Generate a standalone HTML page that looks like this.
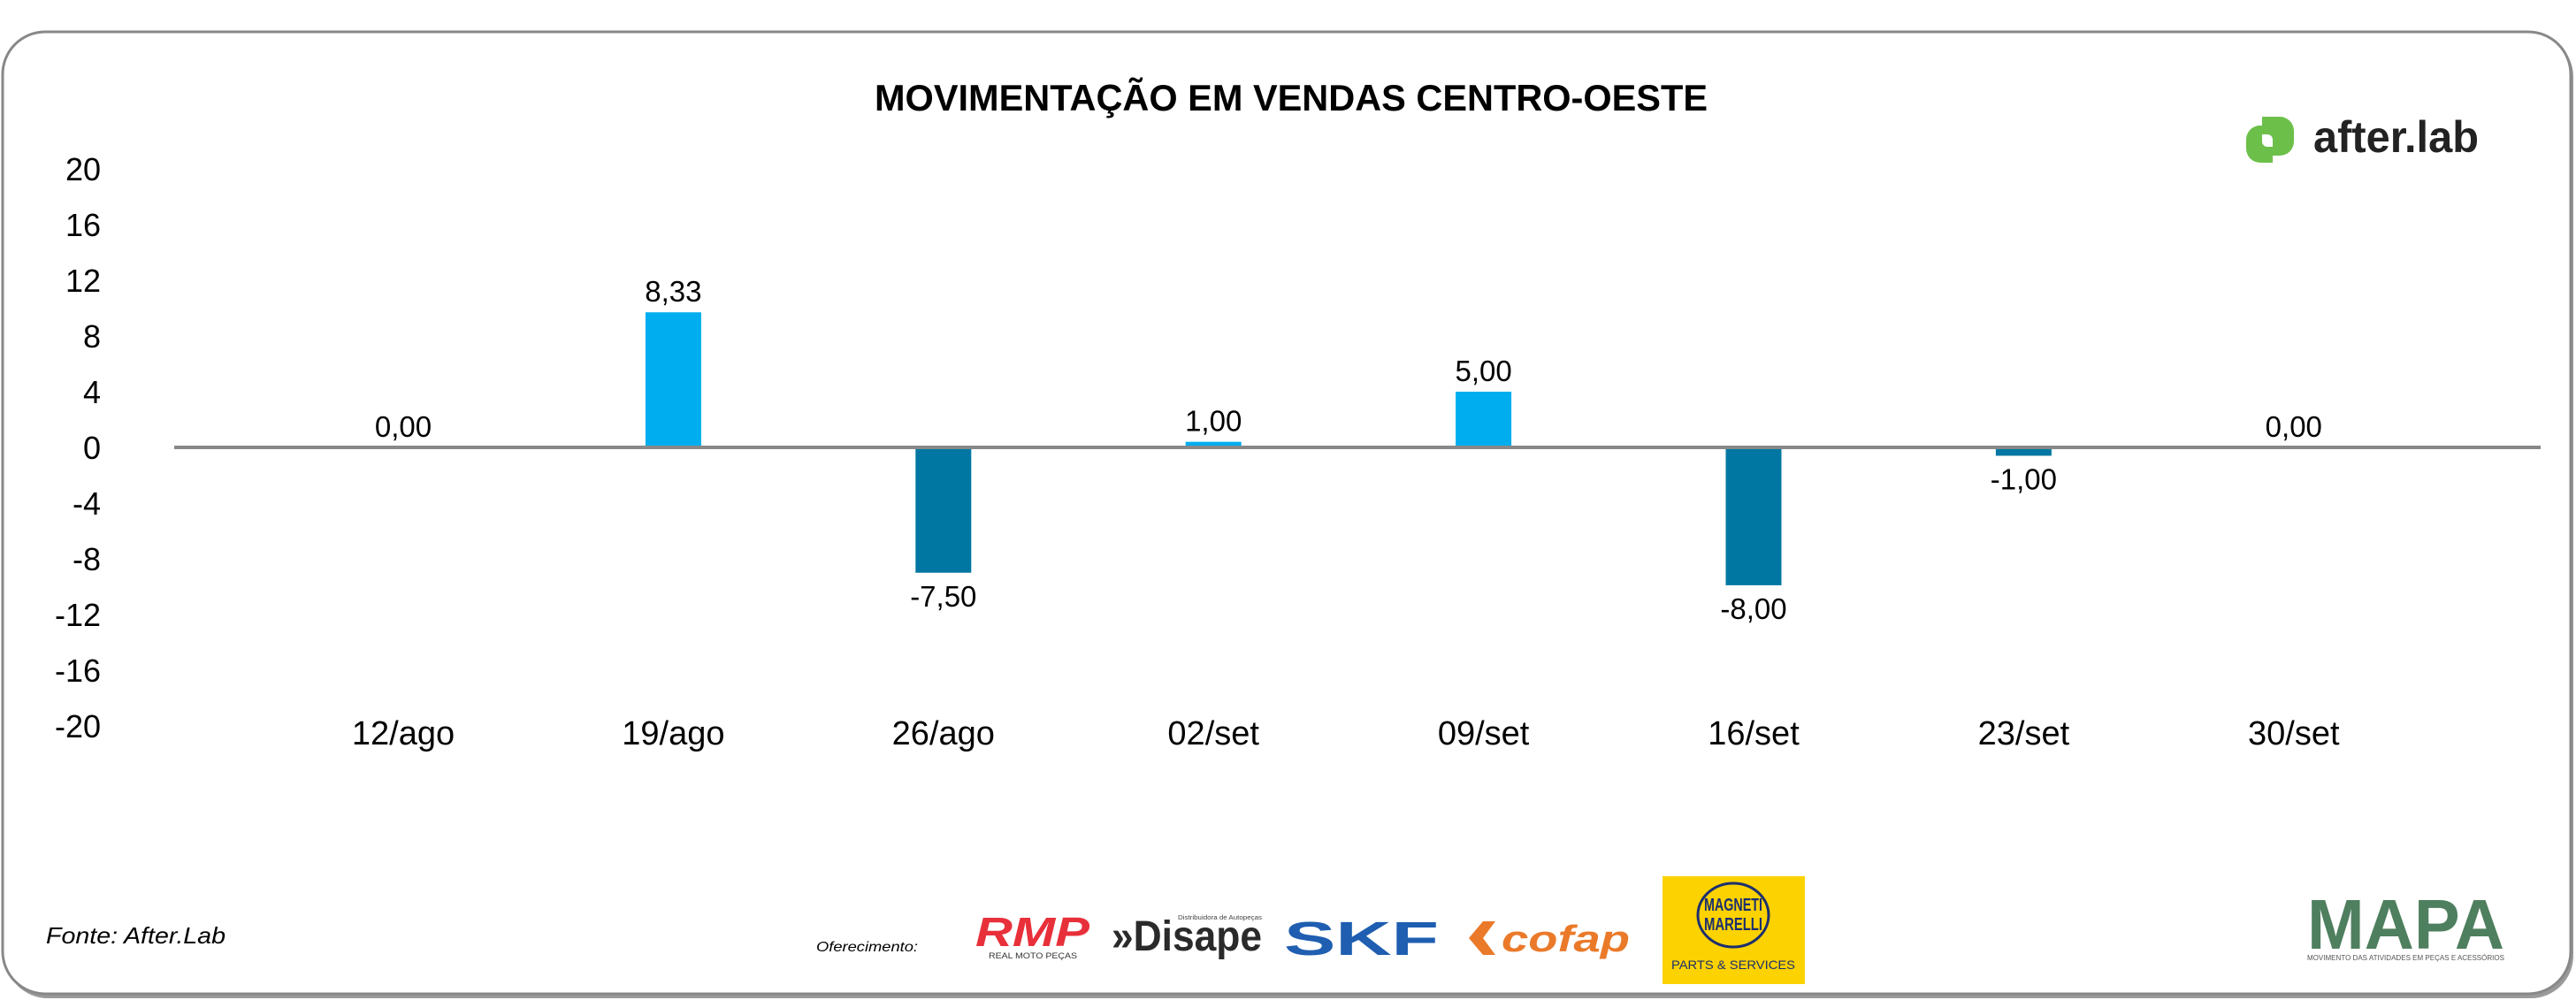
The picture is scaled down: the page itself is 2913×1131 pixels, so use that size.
<!DOCTYPE html>
<html><head><meta charset="utf-8"><style>
html,body{margin:0;padding:0;background:#fff;}
svg{display:block;}
text{font-family:"Liberation Sans",sans-serif;}
</style></head><body>
<svg id="chart" width="2913" height="1131" viewBox="0 0 2913 1131" xmlns="http://www.w3.org/2000/svg">
<rect x="6" y="39" width="2904" height="1090" rx="48" fill="#9a9a9a"/>
<rect x="3" y="36" width="2904" height="1088" rx="48" fill="#fff" stroke="#888" stroke-width="3"/>
<text x="1460" y="125" text-anchor="middle" font-size="42" font-weight="bold" textLength="942" lengthAdjust="spacingAndGlyphs">MOVIMENTAÇÃO EM VENDAS CENTRO-OESTE</text>
<g>
<path d="M2558 132 h20 a16 16 0 0 1 16 16 v12 a16 16 0 0 1 -16 16 h-8 v-18 a6 6 0 0 0 -6 -6 h-6 z" fill="#6cc04a"/>
<path d="M2552 142 h6 v18 a6 6 0 0 0 6 6 h6 v18 h-14 a16 16 0 0 1 -16 -16 v-10 a16 16 0 0 1 14 -16 z" fill="#6cc04a"/>
<text x="2616" y="172" font-size="50" font-weight="bold" fill="#222" textLength="187" lengthAdjust="spacingAndGlyphs">after.lab</text>
</g>
<g id="yaxis"></g>
<g id="bars"></g>
<g id="xaxis"></g>
<text x="52" y="1067" font-size="26" font-style="italic" textLength="203" lengthAdjust="spacingAndGlyphs">Fonte: After.Lab</text>
<text x="923" y="1076" font-size="16" font-style="italic" textLength="115" lengthAdjust="spacingAndGlyphs">Oferecimento:</text>
<g>
<text x="1103" y="1070" font-size="46" font-weight="bold" font-style="italic" fill="#e8303a" textLength="129" lengthAdjust="spacingAndGlyphs">RMP</text>
<text x="1118" y="1084" font-size="9" fill="#333" textLength="100" lengthAdjust="spacingAndGlyphs">REAL MOTO PEÇAS</text>
</g>
<g>
<text x="1257" y="1075" font-size="48" font-weight="bold" fill="#2a2a2a" textLength="170" lengthAdjust="spacingAndGlyphs">»Disape</text>
<text x="1332" y="1040" font-size="7" fill="#444" textLength="95" lengthAdjust="spacingAndGlyphs">Distribuidora de Autopeças</text>
</g>
<text x="1452" y="1080" font-size="54" font-weight="bold" fill="#1f5eb0" textLength="175" lengthAdjust="spacingAndGlyphs">SKF</text>
<g>
<path d="M1661 1061 l16 -19 h14 l-14 19 l14 19 h-14 z" fill="#ea7a2a"/>
<text x="1698" y="1076" font-size="42" font-weight="bold" font-style="italic" fill="#ea7a2a" textLength="145" lengthAdjust="spacingAndGlyphs">cofap</text>
</g>
<g>
<rect x="1880" y="991" width="161" height="122" fill="#fcd200"/>
<ellipse cx="1960" cy="1035" rx="40" ry="36" fill="none" stroke="#1c2f6e" stroke-width="3"/>
<text x="1960" y="1030" text-anchor="middle" font-size="20" font-weight="bold" fill="#1c2f6e" textLength="66" lengthAdjust="spacingAndGlyphs">MAGNETI</text>
<text x="1960" y="1052" text-anchor="middle" font-size="20" font-weight="bold" fill="#1c2f6e" textLength="66" lengthAdjust="spacingAndGlyphs">MARELLI</text>
<text x="1960" y="1096" text-anchor="middle" font-size="14" fill="#1c2f6e" textLength="140" lengthAdjust="spacingAndGlyphs">PARTS &amp; SERVICES</text>
</g>
<g>
<text x="2609" y="1073" font-size="80" font-weight="bold" fill="#4e7f5e" textLength="223" lengthAdjust="spacingAndGlyphs">MAPA</text>
<text x="2609" y="1086" font-size="8" fill="#555" textLength="223" lengthAdjust="spacingAndGlyphs">MOVIMENTO DAS ATIVIDADES EM PEÇAS E ACESSÓRIOS</text>
</g>
</svg>
<script>
const categories = ["12/ago","19/ago","26/ago","02/set","09/set","16/set","23/set","30/set"];
const values = [0, 9.7, -9.0, 0.4, 4.0, -9.9, -0.6, 0];
const valueLabels = ["0,00","8,33","-7,50","1,00","5,00","-8,00","-1,00","0,00"];
const yTicks = [20,16,12,8,4,0,-4,-8,-12,-16,-20];

const NS = "http://www.w3.org/2000/svg";
const yZero = 506, pxPerUnit = 15.75;
function y(v){ return yZero - v * pxPerUnit; }
const x0 = 456, step = 305.4;
function x(i){ return x0 + i * step; }
const barW = 63;
function mk(tag, attrs, parent, txt){
  const el = document.createElementNS(NS, tag);
  for (const k in attrs) el.setAttribute(k, attrs[k]);
  if (txt !== undefined) el.textContent = txt;
  parent.appendChild(el);
  return el;
}
const yaxis = document.getElementById('yaxis');
yTicks.forEach(t => {
  const el = mk('text', {x:114, y:y(t)+13, 'text-anchor':'end', 'font-size':36}, yaxis, String(t));
  
  
});
const bars = document.getElementById('bars');
values.forEach((v, i) => {
  const top = v >= 0 ? y(v) : y(0);
  const h = Math.abs(y(v) - y(0));
  const r = mk('rect', {x:x(i)-barW/2, y:top, width:barW, height:h, fill: v >= 0 ? '#00adef' : '#0077a3'}, bars);
  
  
  const ly = v >= 0 ? y(v) - 12 : y(v) + 38;
  const t = mk('text', {x:x(i), y:ly, 'text-anchor':'middle', 'font-size':33}, bars, valueLabels[i]);
  
  
});
const xaxis = document.getElementById('xaxis');
const line = mk('line', {x1:197, x2:2873, y1:y(0), y2:y(0), stroke:'#888', 'stroke-width':4}, xaxis);


categories.forEach((c, i) => {
  const t = mk('text', {x:x(i), y:842, 'text-anchor':'middle', 'font-size':38}, xaxis, c);
  
  
});
</script>
</body></html>
